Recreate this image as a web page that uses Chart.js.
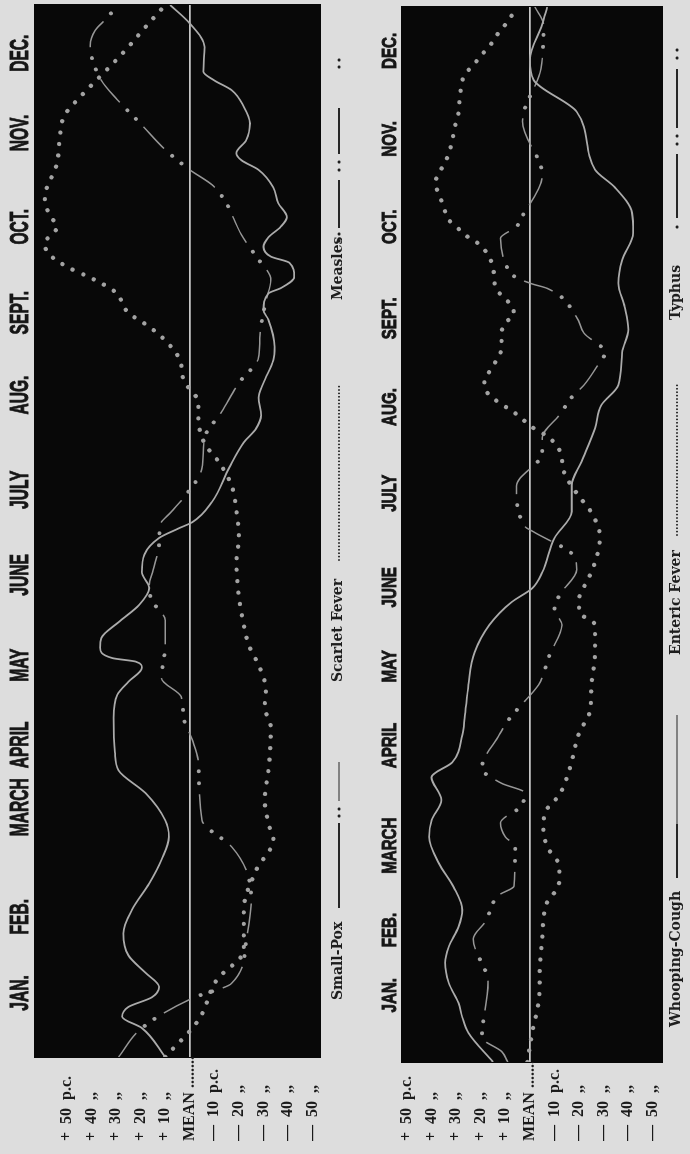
<!DOCTYPE html>
<html><head><meta charset="utf-8">
<script src="https://cdn.jsdelivr.net/npm/chart.js@4.4.1/dist/chart.umd.min.js"></script>
<style>
html,body{margin:0;padding:0;background:#dddddd;overflow:hidden;width:690px;height:1154px;}
#land{position:absolute;left:0;top:0;width:1154px;height:690px;transform-origin:0 0;transform:translate(0px,1154px) rotate(-90deg);}
#c1{position:absolute;left:0;top:0;}
#c2{position:absolute;left:0;top:360px;}
</style></head><body>
<div id="land"><canvas id="c1" width="1154" height="360"></canvas><canvas id="c2" width="1154" height="330"></canvas></div>
<script>
// ---- categories / tick labels ----
const months = ['JAN.','FEB.','MARCH','APRIL','MAY','JUNE','JULY','AUG.','SEPT.','OCT.','NOV.','DEC.'];
const valueTicks = [-50,-40,-30,-20,-10,0,10,20,30,40,50];
const valueLabels = ['\u2014  50  ,,','\u2014  40  ,,','\u2014  30  ,,','\u2014  20  ,,','\u2014  10  p.c.','MEAN ........','+  10  ,,','+  20  ,,','+  30  ,,','+  40  ,,','+  50  p.c.'];
const seriesTop = ['Small-Pox','Scarlet Fever','Measles'];
const seriesBottom = ['Whooping-Cough','Enteric Fever','Typhus'];

// ---- series (month position, per cent above/below mean) ----
const smallPoxT = [0,0.33,0.46,0.57,0.68,0.8,0.96,1.16,1.41,1.68,1.98,2.25,2.51,2.7,3.01,3.27,3.48,3.87,4.13,4.28,4.44,4.51,4.55,4.67,4.78,4.96,5.16,5.35,5.53,5.73,5.92,6.03,6.1,6.33,6.72,7.01,7.17,7.32,7.52,7.69,7.95,8.1,8.41,8.52,8.71,8.77,8.9,9.06,9.13,9.24,9.35,9.47,9.58,9.74,9.92,10.12,10.23,10.31,10.46,10.65,10.84,11.03,11.14,11.24,11.52,11.79,12];
const smallPoxV = [10,19.5,27.5,25,15.5,12.5,18,25,27,23.5,16.5,11.5,8.5,10,18,29,30.5,31,29.5,25,19.5,22,31.5,36.5,36,29,20.5,16.5,19.5,18.5,12.5,4.5,-1,-9,-16,-22,-27,-29,-28,-30,-34,-34.5,-32,-30,-32,-37,-42.5,-40.5,-33,-30,-32,-37,-39.5,-36,-34,-28,-21,-19,-23,-24.5,-22,-17,-10,-5.5,-6,0,8];

const scarletT = [0,0.42,0.88,1.22,1.68,2.13,2.48,2.62,2.93,3.27,3.41,3.75,4.0,4.19,4.44,4.7,5.0,5.25,5.65,5.93,6.22,6.52,6.78,7.0,7.3,7.46,7.72,7.95,8.16,8.33,8.49,8.73,8.89,9.0,9.15,9.28,9.47,9.6,9.8,10.2,10.46,10.74,10.97,11.17,11.46,11.75,12];
const scarletV = [10,-3.5,-11,-22,-22,-27,-34,-32.5,-30.5,-32,-32.5,-33,-30.5,-31,-28.5,-24,-21.5,-20,-19,-20,-19,-17,-12,-6,-3.5,-3.5,2.5,4,9.5,16.5,25,30.5,40.5,49,57,59,54,57,59,54,53,51,44,37,27,18,10];

const measlesT = [0,0.33,0.67,0.84,1.33,1.79,2.13,2.4,2.7,3.36,3.62,3.87,4.11,4.32,4.7,4.98,5.21,5.38,5.55,5.84,6.07,6.22,6.38,6.72,7.06,7.36,7.69,7.98,8.2,8.63,8.86,9.15,9.38,9.78,9.95,10.12,10.35,10.63,10.92,11.14,11.54,11.71,11.83,12];
const measlesV = [29,19.5,-1,-17,-23,-25,-23,-17,-5,-3.5,-1,2.5,3.5,11.5,10,10,15.5,16.5,15,12.5,12,7.5,2.5,-5,-6,-13,-20,-28,-28.5,-31,-33,-26.5,-21,-14,-9,0,10,19.5,29.5,36,40.5,38.5,34.5,29];

const whoopingT = [0,0.33,0.51,0.67,0.9,1.13,1.31,1.54,1.73,1.99,2.26,2.56,2.75,2.98,3.24,3.41,3.72,3.91,4.29,4.66,4.97,5.23,5.39,5.57,5.96,6.26,6.56,6.83,7.21,7.47,7.7,8.07,8.33,8.59,8.86,9.12,9.43,9.66,9.95,10.15,10.81,11.17,11.4,11.8,12];
const whoopingV = [15,25,27.5,29,33,34.5,33,29,27.5,31,37,41,40,36,40,31.5,27.5,26.5,25,22.5,16.5,7.5,-1,-5,-10,-17,-17,-21,-26.5,-29,-36,-37.5,-40,-38.5,-36,-37.5,-42,-41.5,-34.5,-26.5,-19,-1.5,0,-5,-7];

const entericT = [0,0.42,0.59,0.88,1.01,1.4,1.82,1.93,2.07,2.22,2.45,2.66,2.83,3.04,3.32,3.74,4.0,4.27,4.66,4.97,5.12,5.26,5.51,5.73,5.97,6.25,6.47,6.7,6.96,7.12,7.21,7.38,7.53,7.62,7.76,7.85,7.99,8.12,8.29,8.41,8.5,8.61,8.69,8.81,8.93,9.09,9.24,9.32,9.39,9.49,9.58,9.72,9.84,10.0,10.11,10.23,10.38,10.49,10.64,10.8,10.97,11.23,11.34,11.46,11.55,11.66,11.8,12];
const entericV = [1,-1.5,-3,-4,-4,-5,-7,-10,-12,-12,-7,-5.5,-6,-12,-16,-20,-24.5,-25,-26.5,-26.5,-20,-20,-24,-27,-28.5,-25,-19,-14,-12,-7,-1.5,6,14,17.5,18.5,16.5,13.5,11.5,11.5,10,6.5,7.5,10.5,14,14.5,15.5,18.5,21.5,25.5,29.5,33,35,36.5,38.5,37,34.5,32.5,31.5,30.5,29,28.5,26.5,23,19.5,16.5,14,10,5];

const typhusT = [0,0.12,0.28,0.9,1.4,1.6,1.9,2.0,2.45,2.56,2.72,2.9,3.06,3.17,3.34,3.72,3.9,4.03,4.29,4.5,4.63,4.97,5.15,5.31,5.6,5.75,6.03,6.09,6.55,6.93,7.1,7.36,7.44,7.53,7.7,7.9,8.07,8.29,8.47,8.8,8.85,8.93,9.09,9.37,9.5,9.6,10.09,10.7,11.3,11.8,12];
const typhusV = [9,11.5,19.5,17,23,18,12.5,6.5,6,10,12,4,2,11.5,19.5,12.5,8.5,4.5,-3.5,-6.5,-8,-13,-10,-12,-19,-18,-1.5,2,5.5,-5,-5,-12,-14,-16,-22,-27,-30.5,-22,-19,-7,-1,6,10,12,5.5,3.5,-5,3,-4.5,-5.5,-2];

// ---- helpers ----
const pts = (T, V) => T.map((t, i) => ({x: t, y: V[i]}));
const LINE = '#ababab', DOT = '#a3a3a3', THIN = '#979797';
const base = {pointRadius: 0, fill: false, cubicInterpolationMode: 'monotone'};
const solid = (lab, T, V) => Object.assign({label: lab, data: pts(T, V), borderColor: LINE, borderWidth: 1.8}, base);
const dotted = (lab, T, V) => Object.assign({label: lab, data: pts(T, V), borderColor: DOT, borderWidth: 4.3, borderDash: [0.01, 11.5], borderCapStyle: 'round'}, base);
const dashPart = (lab, T, V) => Object.assign({label: lab, data: pts(T, V), borderColor: THIN, borderWidth: 1.5, borderDash: [30, 34]}, base);
const dotPart = (lab, T, V) => Object.assign({label: lab + ' dots', data: pts(T, V), borderColor: DOT, borderWidth: 4, borderDash: [0.01, 12, 0.01, 51.98], borderDashOffset: 23, borderCapStyle: 'round'}, base);

const bgPlugin = {
  id: 'panelBg',
  beforeDraw(chart, args, opts) {
    const {ctx, chartArea: a} = chart;
    ctx.save();
    ctx.fillStyle = opts.color;
    ctx.fillRect(a.left - 1, a.top - 1, a.right - a.left + 2, a.bottom - a.top + 2);
    ctx.restore();
  }
};
const monthPlugin = {
  id: 'monthLabels',
  afterDraw(chart, args, opts) {
    const {ctx} = chart; const xs = chart.scales.x;
    ctx.save();
    ctx.fillStyle = opts.color; ctx.strokeStyle = opts.color; ctx.lineWidth = 0.9;
    ctx.font = 'bold ' + opts.size + 'px "Liberation Sans", Arial, sans-serif';
    ctx.textAlign = 'center'; ctx.textBaseline = 'middle';
    months.forEach((lab, i) => {
      const x = xs.getPixelForValue(opts.pos[i]);
      ctx.save(); ctx.translate(x, opts.y); ctx.scale(opts.squeeze, 1);
      ctx.fillText(lab, 0, 0); ctx.strokeText(lab, 0, 0); ctx.restore();
    });
    ctx.restore();
  }
};
const stripPlugin = {
  id: 'strip',
  afterDraw(chart, args, opts) {
    const {ctx} = chart; const y = opts.y;
    ctx.save();
    ctx.font = 'bold 14px "DejaVu Serif", serif';
    ctx.fillStyle = '#1e1e1e'; ctx.strokeStyle = '#262626';
    ctx.textBaseline = 'middle'; ctx.textAlign = 'left';
    opts.items.forEach(it => {
      ctx.fillText(it.label, it.x, y);
      it.marks.forEach(m => {
        if (m[0] === 'line') { ctx.lineWidth = m[3] || 2; ctx.beginPath(); ctx.moveTo(m[1], y + 1); ctx.lineTo(m[2], y + 1); ctx.stroke(); }
        else if (m[0] === 'dot') { ctx.beginPath(); ctx.arc(m[1], y + 1, 1.6, 0, Math.PI * 2); ctx.fill(); }
        else if (m[0] === 'fine') { for (let x = m[1]; x <= m[2]; x += 3.4) { ctx.beginPath(); ctx.arc(x, y + 1, 0.9, 0, Math.PI * 2); ctx.fill(); } }
      });
    });
    ctx.restore();
  }
};

function makeChart(id, cfg) {
  return new Chart(document.getElementById(id), {
    type: 'line',
    data: {datasets: cfg.datasets},
    options: {
      responsive: false, animation: false, devicePixelRatio: 1,
      layout: {padding: cfg.padding},
      plugins: {
        legend: {display: false}, tooltip: {enabled: false},
        panelBg: {color: '#080808'},
        monthLabels: cfg.month,
        strip: cfg.strip
      },
      scales: {
        x: {type: 'linear', min: 0, max: 12, display: false},
        y: {
          type: 'linear', min: cfg.min, max: cfg.max,
          afterBuildTicks: s => { s.ticks = valueTicks.map(v => ({value: v})); },
          afterFit: s => { s.width = cfg.axisW; },
          border: {display: false},
          grid: {drawTicks: false, lineWidth: 1.8, color: c => (c.tick && c.tick.value === 0) ? '#c6c6c6' : 'rgba(0,0,0,0)'},
          ticks: {crossAlign: 'far', padding: 0, autoSkip: false, color: '#1a1a1a',
            font: {family: '"Liberation Serif", serif', size: 16, weight: 'bold'},
            callback: v => valueLabels[valueTicks.indexOf(v)]}
        }
      }
    },
    plugins: [bgPlugin, monthPlugin, stripPlugin]
  });
}

makeChart('c1', {
  padding: {left: 13, right: 5, top: 35, bottom: 40}, axisW: 84, min: -53, max: 63,
  month: {y: 21, size: 26, squeeze: 0.6, color: '#161616', pos: [0.73,1.6,2.85,3.56,4.47,5.5,6.47,7.55,8.49,9.47,10.54,11.45]},
  strip: {y: 338, items: [
    {label: seriesTop[0], x: 154, marks: [['line', 246, 331, 2], ['dot', 338], ['dot', 345], ['line', 353, 392, 1]]},
    {label: seriesTop[1], x: 472, marks: [['fine', 594, 769]]},
    {label: seriesTop[2], x: 854, marks: [['dot', 913], ['dot', 920], ['line', 926, 974, 2], ['dot', 984], ['dot', 992], ['line', 1000, 1046, 2], ['dot', 1087], ['dot', 1094]]}
  ]},
  datasets: [
    solid(seriesTop[0], smallPoxT, smallPoxV),
    dotted(seriesTop[1], scarletT, scarletV),
    dashPart(seriesTop[2], measlesT, measlesV),
    dotPart(seriesTop[2], measlesT, measlesV)
  ]
});

makeChart('c2', {
  padding: {left: 13, right: 7, top: 42, bottom: 28}, axisW: 79, min: -53.7, max: 52,
  month: {y: 30, size: 21, squeeze: 0.72, color: '#161616', pos: [0.76,1.5,2.46,3.6,4.5,5.4,6.47,7.45,8.46,9.5,10.5,11.5]},
  strip: {y: 316, items: [
    {label: seriesBottom[0], x: 127, marks: [['line', 276, 330, 2], ['line', 330, 439, 1.2]]},
    {label: seriesBottom[1], x: 499, marks: [['fine', 619, 769]]},
    {label: seriesBottom[2], x: 834, marks: [['dot', 927], ['line', 936, 1000, 2], ['dot', 1010], ['dot', 1018], ['line', 1026, 1085, 2], ['dot', 1096], ['dot', 1104]]}
  ]},
  datasets: [
    solid(seriesBottom[0], whoopingT, whoopingV),
    dotted(seriesBottom[1], entericT, entericV),
    dashPart(seriesBottom[2], typhusT, typhusV),
    dotPart(seriesBottom[2], typhusT, typhusV)
  ]
});
</script>
</body></html>
